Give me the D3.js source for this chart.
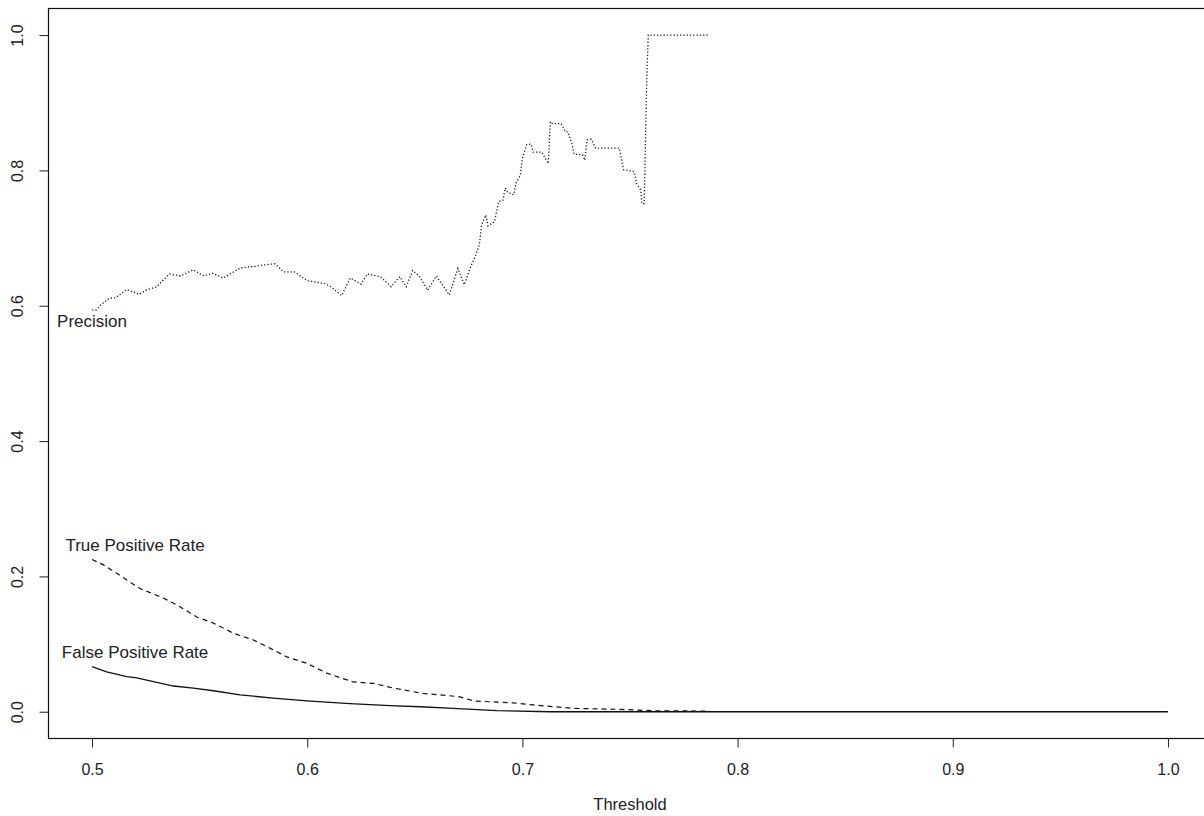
<!DOCTYPE html>
<html>
<head>
<meta charset="utf-8">
<script src="https://cdn.jsdelivr.net/npm/d3@7"></script>
<style>
html, body { margin: 0; padding: 0; background: #fff; }
svg text { font-family: "Liberation Sans", Arial, sans-serif; fill: #222; }
</style>
</head>
<body>
<svg id="chart" width="1204" height="816"></svg>
<script>
// Precision vs threshold (dotted)
const precisionThreshold = [0.500,0.502,0.504,0.508,0.511,0.516,0.522,0.525,0.530,0.536,0.541,0.547,0.552,0.556,0.561,0.569,0.575,0.579,0.585,0.589,0.594,0.600,0.608,0.611,0.616,0.620,0.625,0.628,0.634,0.639,0.643,0.646,0.649,0.652,0.656,0.660,0.666,0.670,0.673,0.676,0.678,0.680,0.681,0.683,0.684,0.687,0.689,0.691,0.692,0.693,0.696,0.697,0.699,0.700,0.702,0.704,0.705,0.709,0.712,0.713,0.714,0.718,0.720,0.721,0.723,0.724,0.728,0.729,0.730,0.732,0.734,0.745,0.747,0.752,0.753,0.755,0.7555,0.7566,0.7578,0.7585,0.787];
const precisionValues = [0.594,0.594,0.601,0.611,0.612,0.624,0.617,0.623,0.628,0.647,0.644,0.653,0.644,0.648,0.641,0.656,0.658,0.660,0.662,0.650,0.650,0.637,0.633,0.628,0.615,0.641,0.632,0.647,0.643,0.628,0.643,0.628,0.652,0.644,0.623,0.644,0.616,0.655,0.631,0.658,0.672,0.690,0.719,0.734,0.718,0.724,0.754,0.756,0.774,0.768,0.764,0.781,0.793,0.818,0.838,0.839,0.827,0.827,0.810,0.872,0.869,0.869,0.857,0.857,0.840,0.824,0.823,0.815,0.845,0.846,0.833,0.833,0.801,0.798,0.781,0.771,0.751,0.751,0.938,1.0,1.0];

// True positive rate vs threshold (dashed)
const tprThreshold = [0.500,0.5053,0.5115,0.5223,0.5331,0.5394,0.5487,0.5564,0.5657,0.5750,0.5827,0.5905,0.5998,0.6091,0.6214,0.6307,0.6400,0.6539,0.6617,0.6710,0.6772,0.6958,0.7051,0.7237,0.7454,0.7608,0.787];
const tprValues = [0.225,0.217,0.2045,0.182,0.168,0.158,0.140,0.131,0.116,0.106,0.094,0.081,0.0715,0.057,0.044,0.042,0.035,0.027,0.025,0.022,0.016,0.013,0.010,0.005,0.0035,0.0015,0.001];

// False positive rate vs threshold (solid)
const fprThreshold = [0.500,0.5068,0.5161,0.5208,0.5378,0.5471,0.5564,0.5688,0.5842,0.5998,0.6199,0.6385,0.6524,0.6679,0.6881,0.7128,1.0];
const fprValues = [0.0665,0.059,0.052,0.050,0.038,0.035,0.031,0.025,0.020,0.016,0.012,0.009,0.0074,0.005,0.0015,0.0,0.0];

const xTicks = [0.5,0.6,0.7,0.8,0.9,1.0];
const yTicks = [0.0,0.2,0.4,0.6,0.8,1.0];
const xLabel = "Threshold";
const seriesLabels = [
  {text: "Precision", x: 0.50, y: 0.576},
  {text: "True Positive Rate", x: 0.52, y: 0.246},
  {text: "False Positive Rate", x: 0.52, y: 0.088}
];

const svg = d3.select("#chart");
const x = d3.scaleLinear().domain([0.48, 1.02]).range([49, 1211]);
const y = d3.scaleLinear().domain([-0.04, 1.04]).range([738.8, 8]);

// box
svg.append("rect")
  .attr("x", 48.5).attr("y", 8.5)
  .attr("width", 1211 - 48.5).attr("height", 738.5 - 8.5)
  .attr("fill", "none").attr("stroke", "#111").attr("stroke-width", 1.2);

// x axis
const xAxis = d3.axisBottom(x).tickValues(xTicks).tickFormat(d3.format(".1f")).tickSize(9);
const gx = svg.append("g").attr("transform", "translate(0,738.5)").call(xAxis);
gx.select(".domain").remove();
gx.selectAll(".tick line").attr("stroke", "#222");
gx.selectAll(".tick text").attr("font-size", 16).attr("fill", "#222").attr("dy", "0.32em").attr("y", 31);

// y axis
const yAxis = d3.axisLeft(y).tickValues(yTicks).tickFormat(d3.format(".1f")).tickSize(9);
const gy = svg.append("g").attr("transform", "translate(48.5,0)").call(yAxis);
gy.select(".domain").remove();
gy.selectAll(".tick line").attr("stroke", "#222");
gy.selectAll(".tick text")
  .attr("font-size", 16).attr("fill", "#222")
  .attr("x", 0).attr("dy", 0)
  .attr("text-anchor", "middle")
  .attr("transform", "translate(-31,0) rotate(-90)")
  .attr("dominant-baseline", "central");

svg.append("text")
  .attr("x", x(0.75)).attr("y", 804)
  .attr("text-anchor", "middle").attr("dominant-baseline", "central")
  .attr("font-size", 16.5).text(xLabel);

const line = d3.line().x(d => x(d[0])).y(d => y(d[1]));

svg.append("path")
  .datum(d3.zip(precisionThreshold, precisionValues))
  .attr("d", line).attr("fill", "none")
  .attr("stroke", "#222").attr("stroke-width", 1.3)
  .attr("stroke-dasharray", "1.3,2");

svg.append("path")
  .datum(d3.zip(tprThreshold, tprValues))
  .attr("d", line).attr("fill", "none")
  .attr("stroke", "#111").attr("stroke-width", 1.2)
  .attr("stroke-dasharray", "5,4");

svg.append("path")
  .datum(d3.zip(fprThreshold, fprValues))
  .attr("d", line).attr("fill", "none")
  .attr("stroke", "#111").attr("stroke-width", 1.3);

svg.selectAll("text.series")
  .data(seriesLabels).enter().append("text")
  .attr("class", "series")
  .attr("x", d => x(d.x)).attr("y", d => y(d.y))
  .attr("text-anchor", "middle").attr("dominant-baseline", "central")
  .attr("font-size", 17)
  .text(d => d.text);
</script>
</body>
</html>
